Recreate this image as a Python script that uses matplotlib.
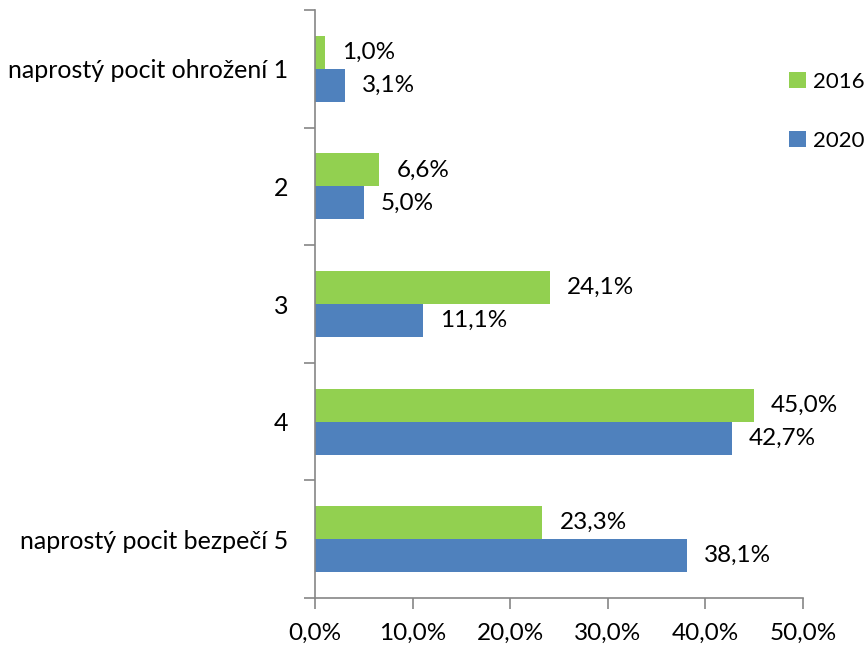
import matplotlib.pyplot as plt
import numpy as np

plt.rcParams['font.family'] = ['Lato', 'DejaVu Sans']

categories = ["naprostý pocit ohrožení 1", "2", "3", "4", "naprostý pocit bezpečí 5"]
values_2016 = [1.0, 6.6, 24.1, 45.0, 23.3]
values_2020 = [3.1, 5.0, 11.1, 42.7, 38.1]
series_labels = ["2016", "2020"]
x_ticks = [0, 10, 20, 30, 40, 50]

green = "#92D050"
blue = "#4F81BD"
axis_gray = "#868686"

fig = plt.figure(figsize=(8.68, 6.48), dpi=100)
ax = fig.add_axes([315 / 868, 1 - 598 / 648, (803 - 315) / 868, (598 - 10) / 648])

y = np.arange(len(categories))
h = 0.28
bars16 = ax.barh(y - h / 2, values_2016, height=h, color=green, label=series_labels[0])
bars20 = ax.barh(y + h / 2, values_2020, height=h, color=blue, label=series_labels[1])

fmt = lambda v: f"{v:.1f}%".replace(".", ",")
for bars, vals in ((bars16, values_2016), (bars20, values_2020)):
    for b, v in zip(bars, vals):
        ax.annotate(fmt(v), (b.get_width(), b.get_y() + b.get_height() / 2),
                    xytext=(17, 0), textcoords="offset pixels",
                    va="center", ha="left", fontsize=17.5)

ax.set_xlim(0, 50)
ax.set_ylim(len(categories) - 0.5, -0.5)
ax.set_xticks(x_ticks)
ax.set_xticklabels([fmt(t) for t in x_ticks], fontsize=17.5)

# category boundaries as major ticks, labels on minor ticks
ax.set_yticks(np.arange(-0.5, len(categories), 1))
ax.set_yticklabels([])
ax.set_yticks(y, minor=True)
ax.set_yticklabels(categories, minor=True, fontsize=18)
ax.tick_params(axis="y", which="minor", length=0, pad=19)
ax.tick_params(axis="y", which="major", length=8, color=axis_gray, width=1.2)
ax.tick_params(axis="x", length=8, color=axis_gray, width=1.2, pad=10)

for s in ("top", "right"):
    ax.spines[s].set_visible(False)
for s in ("left", "bottom"):
    ax.spines[s].set_color(axis_gray)
    ax.spines[s].set_linewidth(1.2)

fig.legend(handles=[bars16, bars20], labels=series_labels, loc="upper left",
           bbox_to_anchor=(789 / 868, 1 - 72 / 648), frameon=False, fontsize=16,
           handlelength=0.75, handleheight=0.75, handletextpad=0.35, labelspacing=1.75,
           borderpad=0, borderaxespad=0)

fig.savefig("out.png", dpi=100)
